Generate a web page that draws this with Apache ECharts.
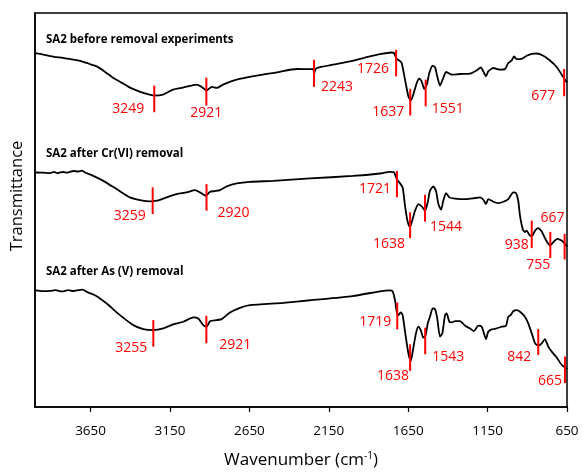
<!DOCTYPE html>
<html>
<head>
<meta charset="utf-8">
<script src="https://cdn.jsdelivr.net/npm/echarts/dist/echarts.min.js"></script>
<style>
html,body{margin:0;padding:0;background:#fff;}
#chart{width:583px;height:474px;}
</style>
</head>
<body>
<div id="chart"></div>
<script>
// ---------- DATA ----------
const tickValues = [650, 1150, 1650, 2150, 2650, 3150, 3650];

const seriesNames = ['SA2 before removal experiments', 'SA2 after Cr(VI) removal', 'SA2 after As (V) removal'];

const wnBefore = [4000,3940,3880,3824,3770,3717,3660,3611,3560,3509,3455,3402,3350,3297,3251,3194,3131,3068,2982,2950,2919,2887,2856,2816,2730,2604,2478,2352,2260,2248,2243,2237,2226,2124,2016,1911,1828,1754,1739,1722,1706,1691,1670,1649,1634,1618,1596,1580,1565,1549,1533,1517,1496,1481,1467,1450,1433,1412,1397,1376,1324,1261,1219,1193,1177,1160,1146,1114,1072,1040,1020,998,984,967,935,904,872,841,799,757,715,683,663,650];
const tBefore = [355.7,354,352,351,349.5,348,345,342.3,337,331,326,321,317.5,314.7,313,314,319,321,324,321.7,318.3,321.7,320.7,324,329,333,336.3,339.7,339.5,339.7,334.5,338,340.7,344,347.3,351.7,354.7,356.3,355.7,349.7,348.3,345.7,329,312.3,308,314,325.7,330,327.3,319.7,324,335.7,343,341.7,332.3,323,329,336.7,335.7,334,334.7,335,338.3,341.3,337.3,332.3,337.3,340.7,339,339.7,345.7,348.3,352.3,349.7,350,353,355,355.3,353,348.3,341.7,334,329,326.3];

const wnCr = [4000,3950,3906,3880,3860,3843,3820,3800,3780,3760,3727,3705,3685,3633,3570,3486,3402,3339,3276,3234,3171,3108,3045,2992,2961,2925,2898,2867,2835,2793,2730,2646,2500,2268,2000,1828,1765,1739,1722,1706,1685,1670,1655,1639,1622,1607,1586,1565,1544,1527,1513,1492,1475,1460,1443,1429,1412,1391,1366,1324,1282,1240,1198,1177,1160,1146,1114,1083,1051,1020,988,971,957,946,929,915,904,887,870,851,831,809,789,757,736,711,684,663,650];
const tCr = [235.7,235.5,235,236.3,235,235.7,236.2,235.5,236.3,237.2,236.7,237.5,235.7,232.3,227.3,219,210.7,208,206.7,207.3,210.7,214,215.7,218,215.7,212.3,216.3,217,218,221.7,224.7,226.3,227.3,229.7,232.2,234.7,236.3,235.7,229,225.7,220.7,202.3,187.3,180.7,189,197.3,204,201.7,197.3,205.7,217.3,221.7,217.3,204,198.3,207.3,215,210.7,209.7,209,209,209.7,210.7,208.3,204,209,206.3,205,206.3,209,215.7,215,207.3,192.3,179,175.7,177.3,173,171.7,177.3,179.7,176.3,169.7,162.3,165.7,169,167.3,164,161.5];

const wnAs = [4000,3950,3906,3870,3840,3822,3790,3760,3737,3700,3674,3622,3549,3465,3381,3318,3255,3192,3129,3066,3003,2972,2940,2919,2898,2856,2824,2772,2709,2646,2436,2268,2000,1828,1765,1748,1733,1722,1712,1697,1685,1670,1649,1634,1618,1601,1586,1571,1555,1540,1527,1513,1496,1481,1467,1450,1435,1418,1408,1391,1376,1355,1324,1292,1261,1236,1209,1187,1173,1160,1146,1124,1093,1061,1034,1020,1005,988,967,946,915,894,872,851,831,809,789,768,746,715,683,656,650];
const tAs = [117.3,116.5,116.7,117.5,116.3,116.3,117.5,116.5,117.3,118,115.7,112.3,104,92.3,82.3,78.3,77.3,79,83,85.7,90,89,82.3,80.7,86.3,87.3,88.3,95,99.7,102.3,104.7,107.3,111.5,116.3,117.3,116.3,107.3,95.7,92.3,95,92.3,75.7,54,46.3,59,74,80.7,77.3,69.7,72.3,84,90.7,99,98.3,89,70.7,74,92.3,94,85.7,85,86.3,86.3,81.7,79,76.3,81.7,80.7,74,68.3,75.7,78,79,80.7,81.7,90.7,92.3,96.3,97.3,95.7,90.7,84,74,64,61.7,64,68.3,60.7,55.7,49.7,42.3,39,38];

// peak markers: label, drawn position, vertical extent (transmittance units)
const markerLabel = ['3249','2921','2243','1726','1637','1551','677',
                     '3259','2920','1721','1638','1544','938','755','667',
                     '3255','2921','1719','1638','1543','842','665'];
const markerAt    = [3249,2921,2243,1726,1637,1540,668,
                     3259,2920,1721,1638,1544,872,755,665,
                     3255,2921,1719,1638,1543,831,663];
const markerLo    = [296.3,303,321.7,332.3,293,302.3,312.3,
                     194,197.3,210.7,169.7,186.3,159.7,149.7,148.3,
                     60.7,64,78,36.3,53,52.3,24];
const markerHi    = [323,331,349,359,319.7,329,339.7,
                     220.7,224,237.3,195.7,213.3,187.3,176,174,
                     87.3,91.7,105,63,79.7,78.3,50.7];

// ---------- STYLE (label placement relative to marker) ----------
const labelLayout = [
  ['right',-10,-3,'lo'],['center',0,7,'lo'],['left',7,0,'lo'],['right',-7,-7,'lo'],['right',-6,-3,'lo'],['left',6,3,'lo'],['right',-9,0,'lo'],
  ['right',-7,2,'lo'],['left',11,2,'lo'],['right',-6,-8,'lo'],['right',-5,6,'lo'],['left',5,5,'lo'],['right',-3,-3,'lo'],['right',0,7,'lo'],['right',0,-16,'hi'],
  ['right',-6,1,'lo'],['left',13,2,'lo'],['right',-6,-7,'lo'],['right',-1,5,'lo'],['left',7,3,'lo'],['right',-7,2,'lo'],['right',-3,-2,'lo']
];
const FONT = '"Open Sans", "Liberation Sans", sans-serif';

const zip = (a, b) => a.map((v, i) => [v, b[i]]);
const curves = [zip(wnBefore, tBefore), zip(wnCr, tCr), zip(wnAs, tAs)];

const chart = echarts.init(document.getElementById('chart'), null, {renderer: 'canvas'});

const lineSeries = curves.map((d, i) => ({
  name: seriesNames[i],
  type: 'line',
  data: d,
  symbol: 'none',
  smooth: 0.2,
  lineStyle: {color: '#000', width: 1.8},
  z: 3,
  silent: true
}));

const markerSeries = {
  type: 'custom',
  coordinateSystem: 'cartesian2d',
  data: markerAt.map((w, i) => [w, markerLo[i], markerHi[i], i]),
  encode: {x: 0, y: [1, 2]},
  z: 5,
  silent: true,
  renderItem: function (params, api) {
    const i = api.value(3);
    const top = api.coord([api.value(0), api.value(2)]);
    const bot = api.coord([api.value(0), api.value(1)]);
    const L = labelLayout[i];
    const ref = L[3] === 'hi' ? top : bot;
    return {
      type: 'group',
      children: [
        {type: 'line', shape: {x1: top[0], y1: top[1], x2: bot[0], y2: bot[1]},
         style: {stroke: '#ff0000', lineWidth: 2}},
        {type: 'text', x: ref[0] + L[1], y: ref[1] + L[2],
         style: {text: markerLabel[i], fill: '#ff0000', font: '14px ' + FONT,
                 align: L[0], verticalAlign: 'middle'}}
      ]
    };
  }
};

const option = {
  animation: false,
  backgroundColor: '#fff',
  grid: {left: 35, right: 16, top: 13, bottom: 65, show: true, borderColor: '#000', borderWidth: 1.5, containLabel: false},
  xAxis: {
    type: 'value', min: 650, max: 4000, interval: 500, inverse: true,
    name: 'Wavenumber (cm{sup|-1})', nameLocation: 'middle', nameGap: 44,
    nameTextStyle: {fontFamily: FONT, fontSize: 17, color: '#000',
      rich: {sup: {fontFamily: FONT, fontSize: 10, color: '#000', verticalAlign: 'top', padding: [0, 0, 9, 0]}}},
    axisLine: {lineStyle: {color: '#000', width: 1.5}},
    axisTick: {show: true, inside: false, length: 5, lineStyle: {color: '#000', width: 1.2}, customValues: tickValues},
    axisLabel: {color: '#000', fontFamily: FONT, fontSize: 13.5, margin: 17, customValues: tickValues,
      formatter: v => String(v)},
    splitLine: {show: false}
  },
  yAxis: {
    type: 'value', min: 0, max: 396,
    name: 'Transmittance', nameLocation: 'middle', nameGap: 9,
    nameTextStyle: {fontFamily: FONT, fontSize: 16.5, color: '#000', padding: [0, 0, 0, 28]},
    axisLine: {show: true, lineStyle: {color: '#000', width: 1.5}},
    axisTick: {show: false}, axisLabel: {show: false}, splitLine: {show: false}
  },
  graphic: [
    {type: 'text', left: 46, top: 34, style: {text: seriesNames[0], font: 'bold 11.5px ' + FONT, fill: '#000'}},
    {type: 'text', left: 46, top: 148, style: {text: seriesNames[1], font: 'bold 11.5px ' + FONT, fill: '#000'}},
    {type: 'text', left: 46, top: 266, style: {text: seriesNames[2], font: 'bold 11.5px ' + FONT, fill: '#000'}}
  ],
  series: lineSeries.concat([markerSeries])
};
chart.setOption(option);
</script>
</body>
</html>
